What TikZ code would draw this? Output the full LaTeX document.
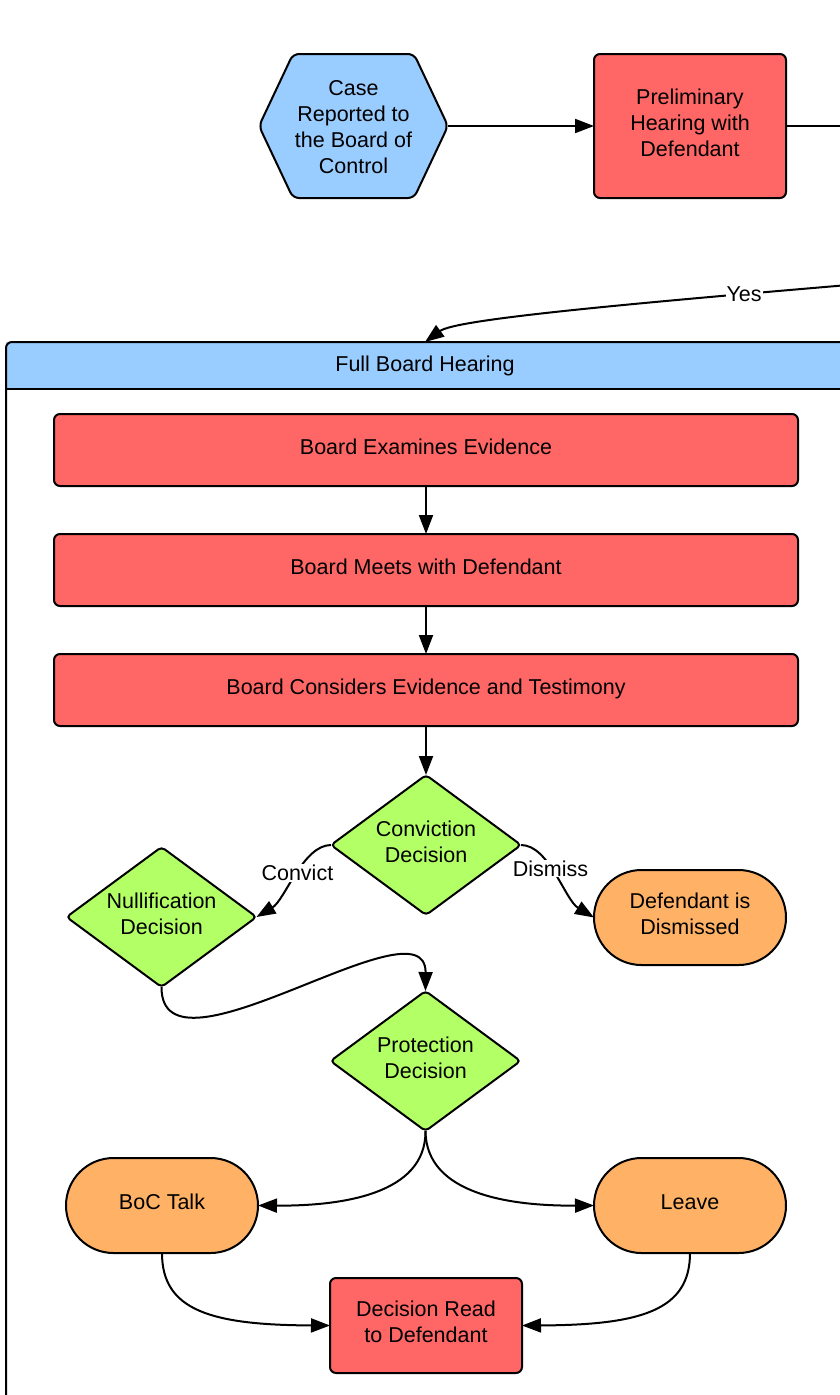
\documentclass[tikz,border=0pt]{standalone}
\usepackage{fontspec}
\setmainfont{Liberation Sans}
\usetikzlibrary{shapes.geometric,shapes.misc,arrows.meta,backgrounds}
\definecolor{redc}{HTML}{FF6666}
\definecolor{bluec}{HTML}{99CCFF}
\definecolor{greenc}{HTML}{B3FF66}
\definecolor{orangec}{HTML}{FFB266}
\newcommand{\fsz}{\fontsize{21.5}{26}\selectfont}
\newcommand{\dstrut}{\rule[-7.5pt]{0pt}{7.5pt}}
\tikzset{
  base/.style={line width=2pt, font=\fsz, align=center, inner sep=0pt, outer sep=0pt},
  lifted/.style={execute at end node={\dstrut}},
  redbox/.style={base, lifted, draw, fill=redc, rounded corners=6pt, minimum width=192pt, minimum height=95pt},
  widebox/.style={redbox, minimum width=744pt, minimum height=72pt},
  decision/.style={base, lifted, draw, fill=greenc, diamond, aspect=1.357, rounded corners=4pt, minimum width=190pt, minimum height=140pt},
  terminal/.style={base, lifted, draw, fill=orangec, rounded rectangle, minimum width=192pt, minimum height=95pt},
  conn/.style={line width=2pt, -{Triangle[length=19pt,width=14pt]}},
  plain/.style={line width=2pt},
  lbl/.style={font=\fsz, fill=white, inner sep=1pt},
}
\begin{document}
\begin{tikzpicture}[x=1pt,y=-1pt]
\useasboundingbox (0,0) rectangle (840,1395);
\clip (0,0) rectangle (840,1395);

% container (swimlane)
\node[base, fill=bluec, minimum width=838pt, minimum height=47pt] (fbh) at (425,365.5) {Full Board Hearing};
\draw[plain] (fbh.south west) -- (fbh.south east);
\draw[plain] (6,1420) [rounded corners=6pt] -- (fbh.north west) [sharp corners] -- (fbh.north east) -- (844,1420);

% top row
\node[base, minimum width=189pt, minimum height=144pt] (case) at (353.5,127) {Case\\Reported to\\the Board of\\Control};
\begin{pgfonlayer}{background}
\draw[plain, fill=bluec, rounded corners=6pt]
  ([xshift=34pt,yshift=1pt]case.north west) -- ([xshift=-34pt,yshift=1pt]case.north east) -- ([yshift=1pt]case.east)
  -- ([xshift=-34pt,yshift=1pt]case.south east) -- ([xshift=34pt,yshift=1pt]case.south west) -- ([yshift=1pt]case.west) -- cycle;
\end{pgfonlayer}
\node[redbox, minimum height=144pt] (prelim) at (690,126) {Preliminary\\Hearing with\\Defendant};
\coordinate (offright) at (880,126);
\coordinate (yesin) at (860,284);

% inside the container
\node[widebox] (bee) at (426,450) {Board Examines Evidence};
\node[widebox] (bmd) at (426,570) {Board Meets with Defendant};
\node[widebox] (bce) at (426,690) {Board Considers Evidence and Testimony};
\node[decision] (conv) at (426,845) {Conviction\\Decision};
\node[decision] (null) at (161.5,917) {Nullification\\Decision};
\node[terminal] (dis) at (690,917.5) {Defendant is\\Dismissed};
\node[decision] (prot) at (425.5,1061) {Protection\\Decision};
\node[terminal] (boc) at (162,1205.5) {BoC Talk};
\node[terminal] (leave) at (690,1205.5) {Leave};
\node[redbox] (dr) at (426,1325.5) {Decision Read\\to Defendant};

% connectors
\draw[conn] ([yshift=1pt]case.east) -- (prelim.west);
\draw[plain] (prelim.east) -- (offright);
\draw[conn] (yesin) .. controls (600,306) and (455,320) .. node[lbl, pos=0.16] {Yes} (fbh.north);
\draw[conn] (bee.south) -- (bmd.north);
\draw[conn] (bmd.south) -- (bce.north);
\draw[conn] (bce.south) -- (conv.north);
\draw[conn] (conv.west) .. controls (303,845) and (285,900) .. node[lbl, pos=0.45, yshift=-3pt] {Convict} (null.east);
\draw[conn] (conv.east) .. controls (549,845) and (565,900) .. node[lbl, pos=0.4, yshift=-3pt] {Dismiss} (dis.west);
\draw[conn] (null.south) .. controls (161,1090) and (426,895) .. (prot.north);
\draw[conn] (prot.south) .. controls (426,1195) and (340,1206) .. (boc.east);
\draw[conn] (prot.south) .. controls (426,1195) and (512,1206) .. (leave.west);
\draw[conn] (boc.south) .. controls (162,1310) and (210,1325) .. (dr.west);
\draw[conn] (leave.south) .. controls (690,1310) and (642,1325) .. (dr.east);
\end{tikzpicture}
\end{document}
